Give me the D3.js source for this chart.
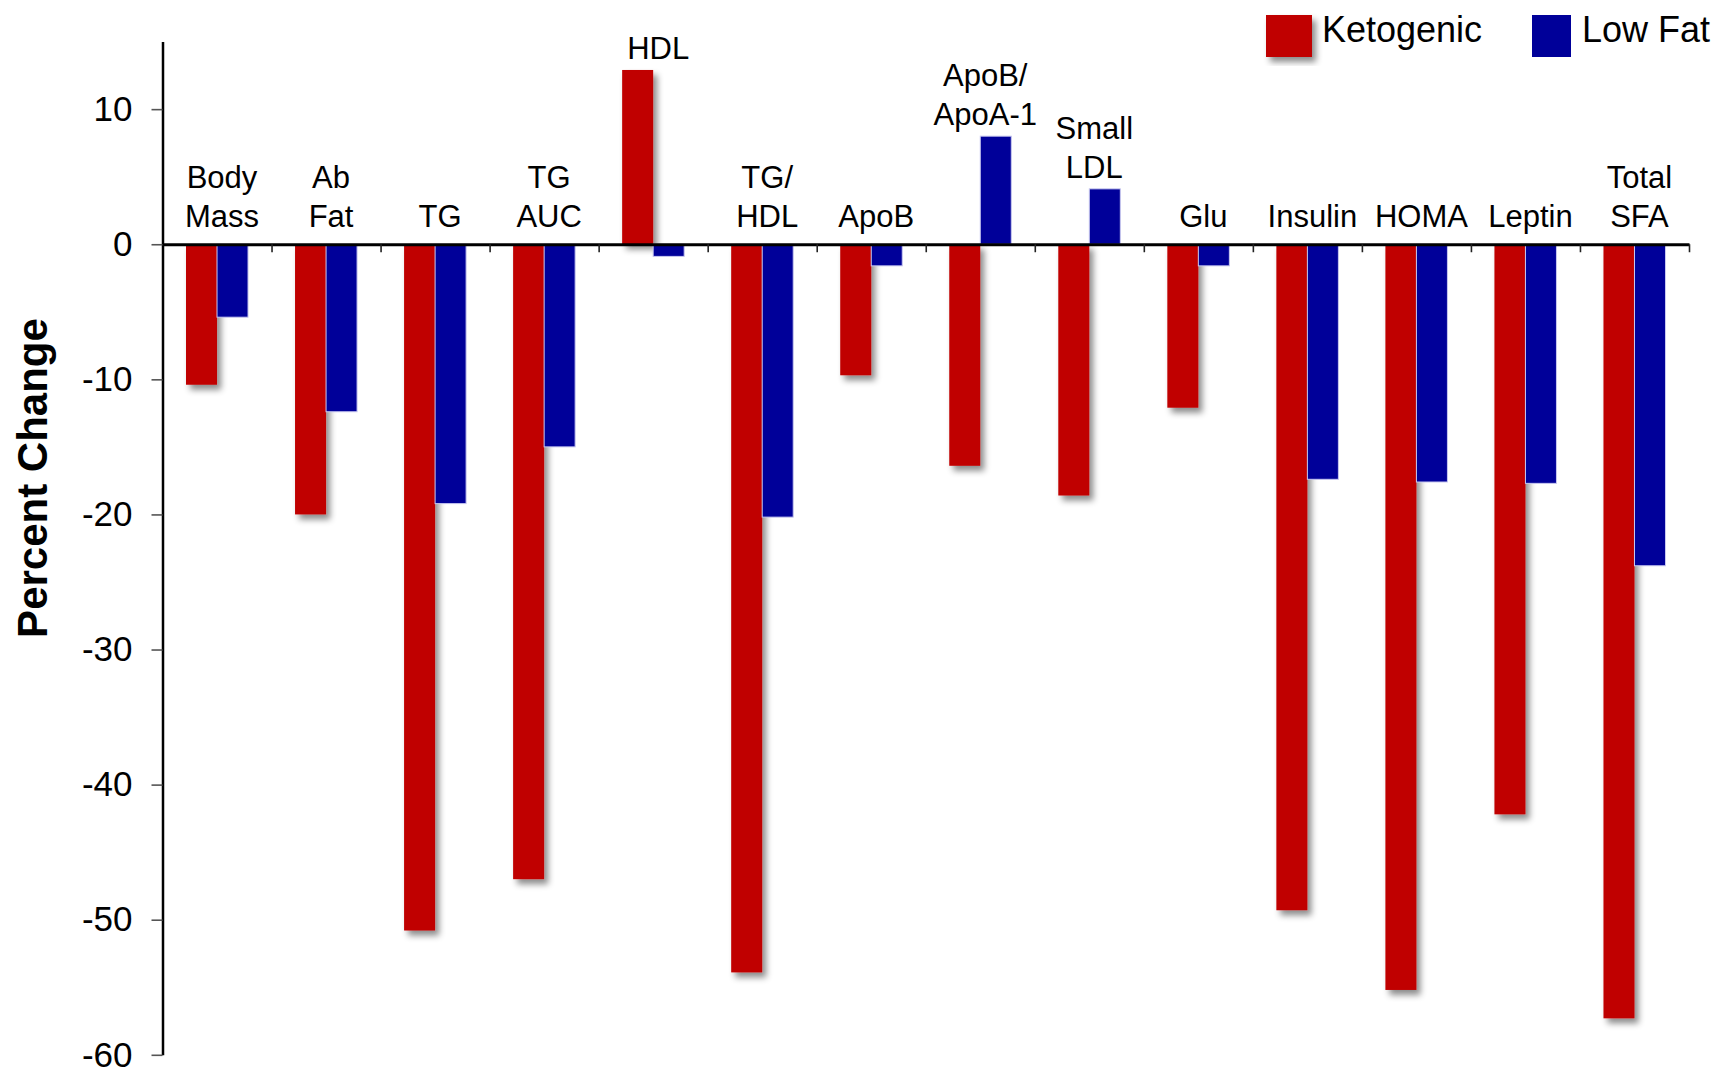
<!DOCTYPE html>
<html>
<head>
<meta charset="utf-8">
<script src="https://cdn.jsdelivr.net/npm/d3@7"></script>
<style>
  html, body { margin: 0; padding: 0; background: #fff; }
  svg { display: block; font-family: Arial, "Liberation Sans", sans-serif; }
</style>
</head>
<body>
<svg id="chart" width="1719" height="1071"></svg>
<script>
// Percent change from baseline, ketogenic vs low-fat diet
const categories = ["Body\nMass", "Ab\nFat", "TG", "TG\nAUC", "HDL", "TG/\nHDL", "ApoB",
                    "ApoB/\nApoA-1", "Small\nLDL", "Glu", "Insulin", "HOMA", "Leptin", "Total\nSFA"];
const series = ["Ketogenic", "Low Fat"];
const ketogenic = [-10.4, -20.0, -50.8, -47.0, 12.9, -53.9, -9.7, -16.4, -18.6, -12.1, -49.3, -55.2, -42.2, -57.3];
const lowFat    = [-5.4, -12.4, -19.2, -15.0, -0.9, -20.2, -1.6, 8.0, 4.1, -1.6, -17.4, -17.6, -17.7, -23.8];
const yTicks = [-60, -50, -40, -30, -20, -10, 0, 10];
const yTickLabels = ["-60", "-50", "-40", "-30", "-20", "-10", "0", "10"];
const yDomain = [-60, 15];
const axisTitle = "Percent Change";

const colors = { "Ketogenic": "#C00000", "Low Fat": "#000099" };

(function draw() {
  const svg = d3.select("#chart");
  const plotLeft = 162.5, plotRight = 1689, plotTop = 41.6, plotBottom = 1054.8;

  // drop shadow used by the red bars
  const defs = svg.append("defs");
  const f = defs.append("filter").attr("id", "shadow")
    .attr("x", "-30%").attr("y", "-10%").attr("width", "180%").attr("height", "130%");
  f.append("feDropShadow").attr("dx", 4).attr("dy", 5).attr("stdDeviation", 3)
    .attr("flood-color", "#000").attr("flood-opacity", 0.45);

  const y = d3.scaleLinear().domain(yDomain).range([plotBottom, plotTop]);
  const x = d3.scaleBand().domain(categories).range([plotLeft, plotRight]).paddingInner(0).paddingOuter(0);
  const x1 = d3.scaleBand().domain(series).range([0, x.bandwidth()]).paddingInner(0).paddingOuter(0.758);

  const rows = categories.map((c, i) => ({ cat: c, keto: ketogenic[i], low: lowFat[i] }));

  // bars: ketogenic first (with shadow), low fat drawn on top
  svg.append("g").selectAll("rect").data(rows).join("rect")
    .attr("x", d => x(d.cat) + x1("Ketogenic"))
    .attr("width", x1.bandwidth())
    .attr("y", d => y(Math.max(0, d.keto)))
    .attr("height", d => Math.abs(y(d.keto) - y(0)))
    .attr("fill", colors["Ketogenic"])
    .attr("filter", "url(#shadow)");

  svg.append("g").selectAll("rect").data(rows).join("rect")
    .attr("x", d => x(d.cat) + x1("Low Fat"))
    .attr("width", x1.bandwidth())
    .attr("y", d => y(Math.max(0, d.low)))
    .attr("height", d => Math.abs(y(d.low) - y(0)))
    .attr("fill", colors["Low Fat"])
    .attr("stroke", "#c8c8f0")
    .attr("stroke-width", 1);

  // y axis (plain hyphen minus signs)
  const yAxis = svg.append("g")
    .attr("transform", `translate(${plotLeft},0)`)
    .call(d3.axisLeft(y).tickValues(yTicks).tickSize(11).tickSizeOuter(0).tickPadding(19)
      .tickFormat((d, i) => yTickLabels[i]));
  yAxis.select(".domain").attr("stroke", "#000").attr("stroke-width", 2.5);
  yAxis.selectAll(".tick line").attr("stroke", "#555").attr("stroke-width", 1.6);
  yAxis.selectAll(".tick text").attr("font-size", 35).attr("fill", "#000")
    .attr("font-family", "Arial, 'Liberation Sans', sans-serif");

  // zero line with ticks at category boundaries
  const xi = d3.scaleLinear().domain([0, categories.length]).range([plotLeft, plotRight]);
  const xAxis = svg.append("g")
    .attr("transform", `translate(0,${y(0)})`)
    .call(d3.axisBottom(xi).tickValues(d3.range(1, categories.length + 1)).tickSize(8).tickSizeOuter(0).tickFormat(""));
  xAxis.select(".domain").attr("stroke", "#000").attr("stroke-width", 3);
  xAxis.selectAll(".tick line").attr("stroke", "#222").attr("stroke-width", 1.6);

  // category labels above the bars
  const labels = svg.append("g").attr("font-size", 31).attr("fill", "#000").attr("text-anchor", "middle");
  rows.forEach(d => {
    const lines = d.cat.split("\n");
    const topVal = Math.max(0, d.keto, d.low);
    const base = topVal > 0 ? y(topVal) - 11 : y(0) - 17;
    const cx = x(d.cat) + x.bandwidth() / 2 + 5;
    const t = labels.append("text").attr("x", cx).attr("y", base - (lines.length - 1) * 39);
    lines.forEach((ln, k) => {
      t.append("tspan").attr("x", cx).attr("dy", k === 0 ? 0 : 39).text(ln);
    });
  });

  // axis title
  svg.append("text")
    .attr("transform", `translate(46.7,${(318 + 638) / 2}) rotate(-90)`)
    .attr("text-anchor", "middle")
    .attr("font-size", 42).attr("font-weight", "bold").attr("fill", "#000")
    .text(axisTitle);

  // legend
  const legend = svg.append("g");
  const legendItems = [
    { s: "Ketogenic", rx: 1266, rw: 46, tx: 1322, shadow: true },
    { s: "Low Fat", rx: 1532, rw: 39, tx: 1582, shadow: false }
  ];
  legendItems.forEach(it => {
    legend.append("rect").attr("x", it.rx).attr("y", 15).attr("width", it.rw).attr("height", 42)
      .attr("fill", colors[it.s]).attr("filter", it.shadow ? "url(#shadow)" : null);
    legend.append("text").attr("x", it.tx).attr("y", 41.7).attr("font-size", 36).attr("fill", "#000").text(it.s);
  });
})();
</script>
</body>
</html>
